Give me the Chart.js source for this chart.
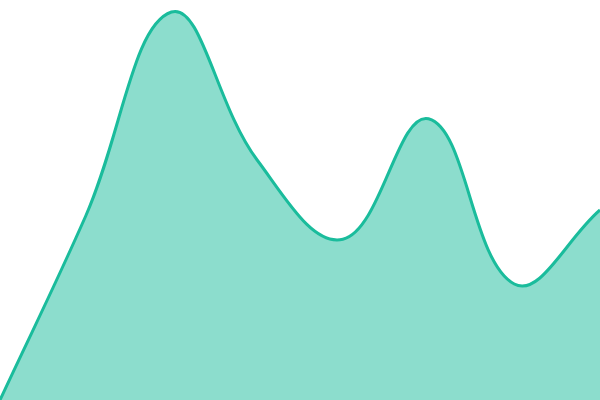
<!DOCTYPE html>
<html>
<head>
<meta charset="utf-8">
<script src="https://cdn.jsdelivr.net/npm/chart.js@4"></script>
<style>
html,body{margin:0;padding:0;background:#fff;}
#wrap{width:600px;height:400px;position:relative;}
</style>
</head>
<body>
<div id="wrap"><canvas id="c"></canvas></div>
<script>
const categories = ["1","2","3","4","5","6","7","8"];
const values = [0, 46, 97, 60, 40.2, 70.3, 29, 47.5];

new Chart(document.getElementById('c'), {
  type: 'line',
  data: {
    labels: categories,
    datasets: [{
      data: values,
      borderColor: '#1abc9c',
      backgroundColor: 'rgba(26,188,156,0.5)',
      borderWidth: 3,
      fill: true,
      tension: 0.4,
      pointRadius: 0,
      pointHoverRadius: 0
    }]
  },
  options: {
    responsive: true,
    maintainAspectRatio: false,
    animation: false,
    layout: { padding: 0 },
    plugins: { legend: { display: false }, tooltip: { enabled: false } },
    scales: {
      x: { display: false },
      y: { display: false, min: 0, max: 100 }
    }
  }
});
</script>
</body>
</html>
